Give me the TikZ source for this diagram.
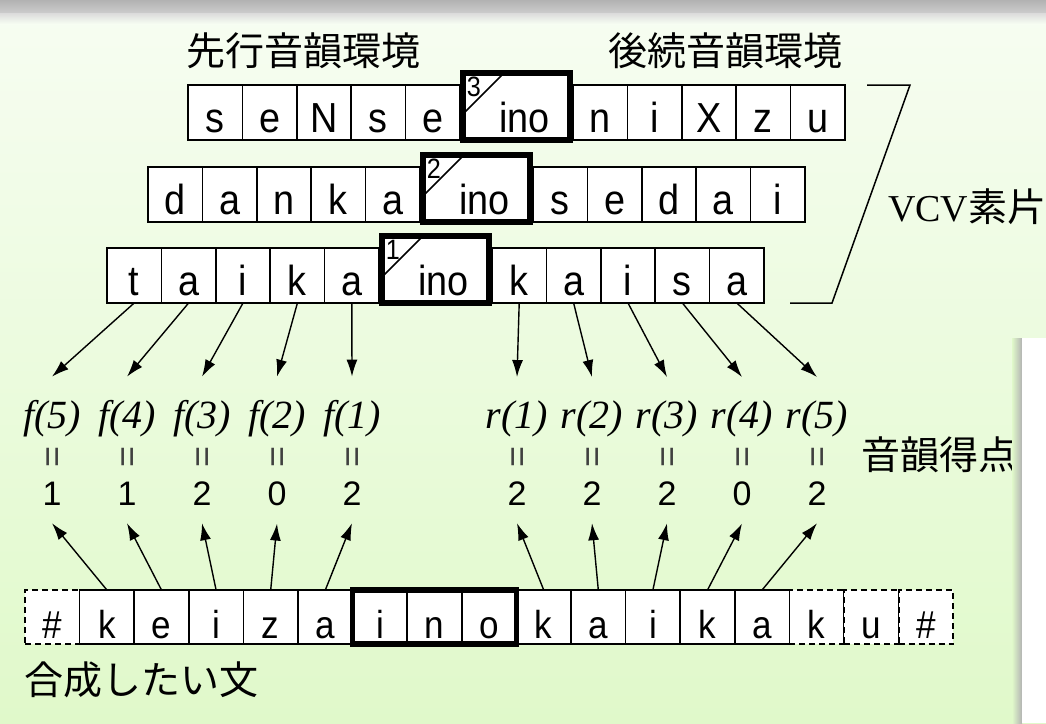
\documentclass[tikz,border=0pt]{standalone}
\usepackage{fontspec}
\setmainfont{Liberation Serif}
\setsansfont{Liberation Sans}
\newfontfamily\cellfont{Liberation Sans}[FakeStretch=0.9]
\newfontfamily\jpfont{Noto Sans CJK JP}
\usetikzlibrary{arrows.meta, positioning}
\definecolor{bgtop}{RGB}{247,253,242}
\definecolor{bgbot}{RGB}{224,249,202}

\tikzset{
  >={Latex[length=17pt,width=11pt]},
  link/.style={->, line width=1.4pt},
  cell/.style={draw, fill=white, line width=1.5pt, inner sep=0pt, outer sep=0pt,
    minimum width=54.4pt, minimum height=55pt, text height=47pt, text depth=8pt,
    font=\cellfont\fontsize{42}{44}\selectfont},
  inobox/.style={cell, line width=5.5pt, minimum width=107pt, minimum height=67pt,
    text height=59pt, execute at begin node={\hspace*{16pt}}},
  inonum/.style={inner sep=0pt, font=\cellfont\fontsize{28}{28}\selectfont},
  slash/.style={line width=1.5pt},
  sentcell/.style={cell, minimum width=54.6pt, minimum height=54pt,
    text height=48pt, text depth=6pt, font=\cellfont\fontsize{39}{40}\selectfont},
  dashcell/.style={sentcell, dash pattern=on 6pt off 4pt, line width=1.8pt},
  jtext/.style={inner sep=0pt, font=\jpfont\fontsize{39}{40}\selectfont},
  flabel/.style={anchor=base, inner xsep=0pt, inner ysep=23pt,
    font=\itshape\fontsize{40}{42}\selectfont},
  eqsign/.style={rotate=90, inner sep=0pt, text=black!75,
    font=\sffamily\fontsize{36}{36}\selectfont},
  score/.style={anchor=base, inner xsep=0pt, inner ysep=18pt,
    font=\sffamily\fontsize{34}{36}\selectfont}
}

\begin{document}
\begin{tikzpicture}[x=1pt,y=-1pt]
\useasboundingbox (0,0) rectangle (1046,723);
% background and frame
\fill[top color=bgtop, bottom color=bgbot] (0,0) rectangle (1046,723);
\fill[top color=black!30, bottom color=black!20] (0,0) rectangle (1046,13);
\fill[top color=black!14, bottom color=bgtop] (0,13) rectangle (1046,24);

% headings
\node[jtext, anchor=base west] (prehead) at (186,65) {先行音韻環境};
\node[jtext, anchor=base east] (posthead) at (843,65) {後続音韻環境};

% VCV unit 3
\foreach \ch [count=\i] in {s,e,N,s,e}
  \node[cell] (v3c\i) at (160.8+54.4*\i,112.5) {\ch};
\node[inobox] (v3) at (516.5,106.5) {ino};
\draw[slash] ([yshift=-41pt]v3.north west) -- ([xshift=41pt]v3.north west);
\node[inonum] (v3n) at ([xshift=11pt,yshift=-14pt]v3.north west) {3};
\foreach \ch [count=\i from 6] in {n,i,X,z,u}
  \node[cell] (v3c\i) at (273.8+54.4*\i,112.5) {\ch};

% VCV unit 2
\foreach \ch [count=\i] in {d,a,n,k,a}
  \node[cell] (v2c\i) at (120.8+54.4*\i,194.5) {\ch};
\node[inobox] (v2) at (476.5,188.5) {ino};
\draw[slash] ([yshift=-41pt]v2.north west) -- ([xshift=41pt]v2.north west);
\node[inonum] (v2n) at ([xshift=11pt,yshift=-14pt]v2.north west) {2};
\foreach \ch [count=\i from 6] in {s,e,d,a,i}
  \node[cell] (v2c\i) at (233.8+54.4*\i,194.5) {\ch};

% VCV unit 1
\foreach \ch [count=\i] in {t,a,i,k,a}
  \node[cell] (v1c\i) at (79.8+54.4*\i,275.5) {\ch};
\node[inobox] (v1) at (435.5,269.5) {ino};
\draw[slash] ([yshift=-41pt]v1.north west) -- ([xshift=41pt]v1.north west);
\node[inonum] (v1n) at ([xshift=11pt,yshift=-14pt]v1.north west) {1};
\foreach \ch [count=\i from 6] in {k,a,i,s,a}
  \node[cell] (v1c\i) at (192.8+54.4*\i,275.5) {\ch};

% bracket
\draw[line width=1.5pt] (790,303) -- (832,303) -- (910,85) -- (867,85);
\node[anchor=base west, inner sep=0pt, font=\fontsize{38}{40}\selectfont] (vcv)
  at (888,221) {VCV{\jpfont\fontsize{39}{40}\selectfont 素片}};

% scores
\foreach \j/\v in {1/2,2/0,3/2,4/1,5/1}{
  \node[flabel] (f\j) at (427-75*\j,428) {f(\j)};
  \node[eqsign] (fe\j) at (431-75*\j,457) {=};
  \node[score] (fs\j) at (427-75*\j,505) {\v};
}
\foreach \j/\v in {1/2,2/2,3/2,4/0,5/2}{
  \node[flabel] (r\j) at (442+75*\j,428) {r(\j)};
  \node[eqsign] (re\j) at (446+75*\j,457) {=};
  \node[score] (rs\j) at (442+75*\j,505) {\v};
}
\node[jtext, anchor=base west] (scorelabel) at (861,469) {音韻得点};

% sentence
\foreach \ch/\i in {\#/1,k/15,u/16,\#/17}
  \node[dashcell] (s\i) at (-2.3+54.6*\i,617) {\ch};
\foreach \ch [count=\i from 2] in {k,e,i,z,a,i,n,o,k,a,i,k,a}
  \node[sentcell] (s\i) at (-2.3+54.6*\i,617) {\ch};
\draw[line width=5.5pt] (s7.north west) rectangle (s9.south east);
\node[jtext, anchor=base west] (sentlabel) at (24,694) {合成したい文};

% arrows
\foreach \j in {1,...,5}{
  \pgfmathtruncatemacro\k{6-\j}
  \draw[link] (v1c\k.south) -- (f\j.north);
  \pgfmathtruncatemacro\k{5+\j}
  \draw[link] (v1c\k.south) -- (r\j.north);
  \pgfmathtruncatemacro\k{7-\j}
  \draw[link] (s\k.north) -- (fs\j.south);
  \pgfmathtruncatemacro\k{9+\j}
  \draw[link] (s\k.north) -- (rs\j.south);
}

% side panel
\fill[left color=bgbot, right color=black!30] (1012,338) rectangle (1022,723);
\fill[white] (1022,338) rectangle (1046,723);
\end{tikzpicture}
\end{document}
